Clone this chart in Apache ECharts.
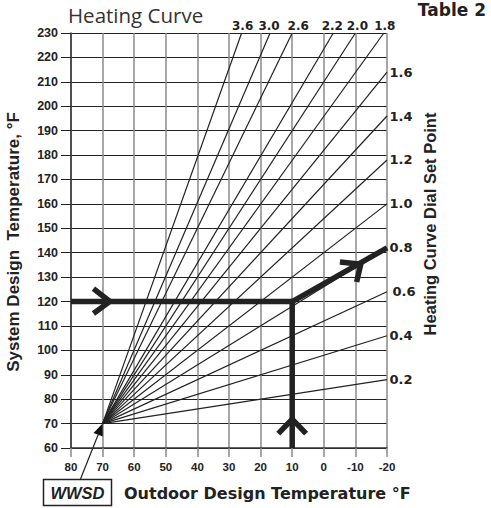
<!DOCTYPE html>
<html>
<head>
<meta charset="utf-8">
<script src="https://cdn.jsdelivr.net/npm/echarts@6/dist/echarts.min.js"></script>
<style>
  html, body { margin: 0; padding: 0; background: #ffffff; }
  #chart { width: 491px; height: 508px; }
</style>
</head>
<body>
<div id="chart"></div>
<script>
// ---- Data ----
const dialValues     = ['0.2','0.4','0.6','0.8','1.0','1.2','1.4','1.6','1.8','2.0','2.2','2.6','3.0','3.6'];
const curveEndTemp   = [-20, -20, -20, -20, -20, -20, -20, -20, -19, -10, -3, 10, 17, 26];
const curveEndSupply = [88, 106, 124, 142, 160, 178, 196, 214, 230, 230, 230, 230, 230, 230];
const labelAtTop     = [false,false,false,false,false,false,false,false,true,true,true,true,true,true];
const labelShift     = [0, 0, 3, 0, 0, 0, 0, 0, 1, 2, -1, 6, -1, 1];
const wwsdPoint      = [70, 70];
const designPath     = [[80, 120], [10, 120], [10, 60]];
const resetPath      = [[10, 120], [-20, 142]];
const chevronRight   = [[72.9, 125.3], [67.7, 120], [72.9, 115.1]];
const chevronUp      = [[14.4, 65.9], [10, 71.8], [5.6, 65.9]];
const chevronDiag    = [[-5.1, 136.2], [-11.7, 135.3], [-10.4, 128]];

const INK = '#222';
const chart = echarts.init(document.getElementById('chart'), null, { renderer: 'svg' });

const series = [];
dialValues.forEach((d, i) => {
  series.push({
    type: 'line',
    silent: true,
    clip: false,
    z: 3,
    lineStyle: { color: '#222', width: 1.2 },
    data: [
      { value: wwsdPoint, symbol: 'none' },
      {
        value: [curveEndTemp[i], curveEndSupply[i]],
        symbol: 'circle', symbolSize: 1,
        itemStyle: { color: 'rgba(0,0,0,0)' },
        label: {
          show: true,
          formatter: d,
          position: labelAtTop[i] ? 'top' : 'right',
          distance: labelAtTop[i] ? 1 : 2,
          offset: [labelShift[i], 0],
          color: INK,
          fontFamily: 'DejaVu Sans',
          fontWeight: 'bold',
          fontSize: labelAtTop[i] ? 12 : 13
        }
      }
    ]
  });
});
const thick = (pts) => ({
  type: 'line', silent: true, clip: false, z: 5, symbol: 'none',
  lineStyle: { color: '#222', width: 5.5, cap: 'butt', join: 'miter' },
  data: pts
});
series.push(thick(designPath), thick(resetPath), thick(chevronRight), thick(chevronUp), thick(chevronDiag));

const option = {
  animation: false,
  grid: { left: 71, right: 104, top: 33, bottom: 60, containLabel: false },
  xAxis: {
    type: 'value', min: -20, max: 80, interval: 10, inverse: true,
    axisLine: { show: true, onZero: false, lineStyle: { color: '#333', width: 1.5 } },
    axisTick: { show: true, length: 9, lineStyle: { color: '#888', width: 1.5 } },
    axisLabel: { margin: 13, color: INK, fontFamily: 'Liberation Sans', fontWeight: 'bold', fontSize: 11.5 },
    splitLine: { show: true, lineStyle: { color: '#8a8a8a', width: 1.5 } }
  },
  yAxis: {
    type: 'value', min: 60, max: 230, interval: 10,
    axisLine: { show: true, onZero: false, lineStyle: { color: '#333', width: 1.5 } },
    axisTick: { show: true, length: 10, lineStyle: { color: '#222', width: 1 } },
    axisLabel: { margin: 13, color: INK, fontFamily: 'Liberation Sans', fontWeight: 'bold', fontSize: 12.5 },
    splitLine: { show: true, lineStyle: { color: '#222', width: 1 } }
  },
  series: series
};
chart.setOption(option);

// annotations
const tip = chart.convertToPixel({ gridIndex: 0 }, wwsdPoint);
const tail = [80.5, 479];
const dx = tip[0] - tail[0], dy = tip[1] - tail[1];
const len = Math.sqrt(dx * dx + dy * dy);
const ux = dx / len, uy = dy / len;
const headLen = 12, headHalf = 5;
const base = [tip[0] - ux * headLen, tip[1] - uy * headLen];

chart.setOption({
  graphic: [
    { type: 'text', x: 68, y: 15, style: { text: 'Heating Curve', font: '20.5px "Open Sans"', fill: '#333', textAlign: 'left', textVerticalAlign: 'middle' } },
    { type: 'text', x: 486, y: 10, style: { text: 'Table 2', font: 'bold 17px "DejaVu Sans"', fill: INK, textAlign: 'right', textVerticalAlign: 'middle' } },
    { type: 'text', x: 124, y: 493, style: { text: 'Outdoor Design Temperature \u00B0F', font: 'bold 16px "DejaVu Sans"', fill: INK, textAlign: 'left', textVerticalAlign: 'middle' } },
    { type: 'text', x: 13, y: 242, rotation: Math.PI / 2, style: { text: 'System Design  Temperature, \u00B0F', font: 'bold 17px "Liberation Sans"', fill: INK, textAlign: 'center', textVerticalAlign: 'middle' } },
    { type: 'text', x: 430, y: 224, rotation: Math.PI / 2, style: { text: 'Heating Curve Dial Set Point', font: 'bold 16.5px "Liberation Sans"', fill: INK, textAlign: 'center', textVerticalAlign: 'middle' } },
    { type: 'line', shape: { x1: tail[0], y1: tail[1], x2: base[0], y2: base[1] }, style: { stroke: '#222', lineWidth: 1.2 } },
    { type: 'polygon', shape: { points: [tip, [base[0] - uy * headHalf, base[1] + ux * headHalf], [base[0] + uy * headHalf, base[1] - ux * headHalf]] }, style: { fill: '#111' } },
    { type: 'rect', shape: { x: 43.5, y: 479.5, width: 68, height: 26 }, style: { fill: '#fff', stroke: '#222', lineWidth: 1.5 } },
    { type: 'text', x: 77.5, y: 493, style: { text: 'WWSD', font: 'italic bold 16.5px "Liberation Sans"', fill: '#222', textAlign: 'center', textVerticalAlign: 'middle' } }
  ]
});
</script>
</body>
</html>
